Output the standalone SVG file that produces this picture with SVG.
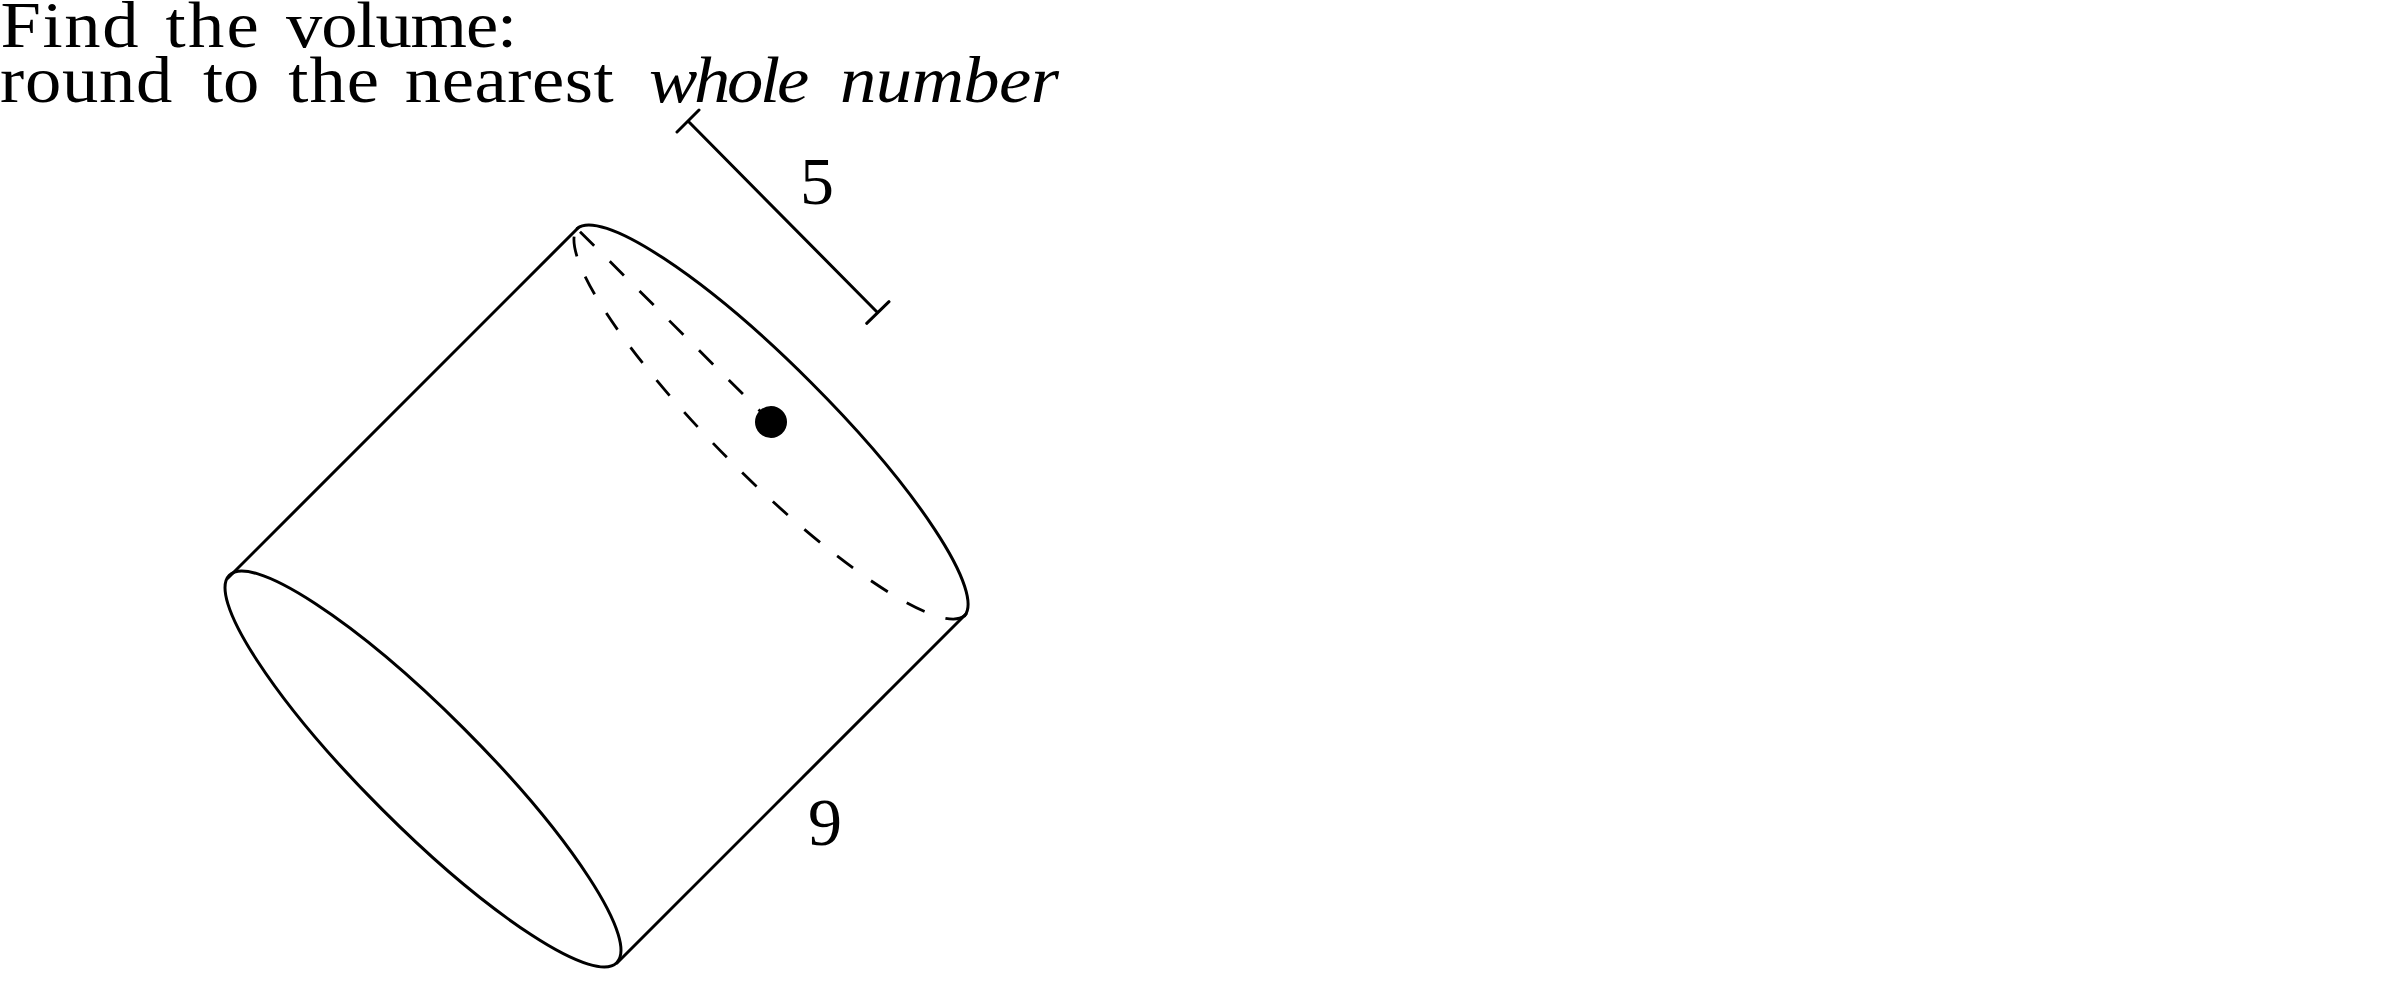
<svg xmlns="http://www.w3.org/2000/svg" width="2387" height="987" viewBox="0 0 2387 987">
<style>
.s{fill:none;stroke:#000;stroke-width:3;stroke-linecap:round}
.d{fill:none;stroke:#000;stroke-width:2.8;stroke-dasharray:20 22}
.t{font-family:"Liberation Serif",serif;font-size:66px;fill:#000}
.n{font-family:"Liberation Serif",serif;font-size:68px;fill:#000}
</style>
<rect width="2387" height="987" fill="#fff"/>
<g id="title">
<text class="t" transform="scale(1.1 1)" y="47"><tspan x="0.500" letter-spacing="1.500">Find </tspan><tspan x="150.500" letter-spacing="2">the </tspan><tspan x="260" letter-spacing="-1">volume:</tspan></text>
<text class="t" transform="scale(1.1 1)" y="102"><tspan x="0" letter-spacing="0.700">round </tspan><tspan x="184.500">to </tspan><tspan x="262" letter-spacing="1">the </tspan><tspan x="368" letter-spacing="0.500">nearest </tspan><tspan x="590" font-style="italic" letter-spacing="-3">whole </tspan><tspan x="763.600" font-style="italic" letter-spacing="-0.500">number</tspan></text>
</g>
<g id="cylinder">
<path class="s" d="M228 578L578 228"/>
<path class="s" d="M617 963L966 614"/>
<path class="s" d="M577.300 228.300A274 57.500 45 0 1 964.700 615.700"/>
<path class="d" d="M964.700 615.700A274 57.500 45 0 1 577.300 228.300"/>
<ellipse class="s" cx="423" cy="769" rx="274" ry="57.500" transform="rotate(45 423 769)"/>
</g>
<g id="center">
<path class="d" d="M580 231.700L771 422"/>
<circle cx="771" cy="422" r="16"/>
</g>
<g id="dimension">
<path class="s" d="M688 121L877 312M677 132L699 110M866.700 323.300L889 301.700"/>
<text class="n" x="800" y="204">5</text>
</g>
<g id="length">
<text class="n" x="808" y="845">9</text>
</g>
</svg>
